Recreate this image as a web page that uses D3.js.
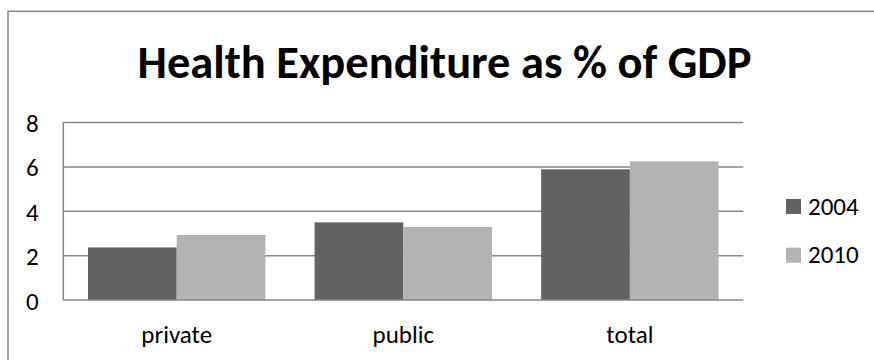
<!DOCTYPE html>
<html>
<head>
<meta charset="utf-8">
<script src="https://cdn.jsdelivr.net/npm/d3@7/dist/d3.min.js"></script>
<style>
  html, body { margin: 0; padding: 0; background: #fff; }
  svg { display: block; }
  text { font-family: Carlito, Calibri, Lato, "Open Sans", sans-serif; fill: #000; }
</style>
</head>
<body>
<svg id="chart" width="874" height="360"></svg>
<script>
// Health expenditure as a share of GDP, by funding source
const categories = ["private", "public", "total"];
const seriesNames = ["2004", "2010"];
const values2004 = [2.37, 3.5, 5.89];
const values2010 = [2.93, 3.29, 6.25];
const yTicks = [0, 2, 4, 6, 8];
const titleText = "Health Expenditure as % of GDP";

const seriesValues = [values2004, values2010];
const colors = ["#626262", "#b3b3b3"];
const labelSize = 25;

const svg = d3.select("#chart");

// outer chart frame (runs off the right and bottom edges)
svg.append("rect")
  .attr("x", 8).attr("y", 11.3)
  .attr("width", 1000).attr("height", 500)
  .attr("fill", "none").attr("stroke", "#8a8a8a").attr("stroke-width", 1.6);

// title
svg.append("text")
  .attr("x", 444.5).attr("y", 78)
  .attr("text-anchor", "middle")
  .attr("font-size", 46.5).attr("font-weight", "bold")
  .text(titleText);

const plot = { left: 63.3, right: 743.3, top: 122.5, bottom: 300 };

const x0 = d3.scaleBand().domain(categories)
  .range([plot.left, plot.right]).paddingInner(0.217).paddingOuter(0.109);
const x1 = d3.scaleBand().domain(seriesNames).range([0, x0.bandwidth()]);
const y = d3.scaleLinear().domain([0, 8]).range([plot.bottom, plot.top]);

// horizontal gridlines
svg.append("g").selectAll("line").data(yTicks.filter(t => t > 0)).join("line")
  .attr("x1", plot.left).attr("x2", plot.right)
  .attr("y1", d => y(d)).attr("y2", d => y(d))
  .attr("stroke", "#878787").attr("stroke-width", 1.5);

// y axis labels
const yAxis = d3.axisLeft(y).tickValues(yTicks).tickSize(0).tickPadding(0).tickFormat(d3.format("d"));
const yG = svg.append("g").attr("transform", `translate(${plot.left},0)`).call(yAxis);
yG.select(".domain").remove();
yG.selectAll("text")
  .attr("x", -31).attr("text-anchor", "middle")
  .attr("font-size", labelSize).attr("font-family", "Carlito, Calibri, Lato, sans-serif")
  .attr("dy", "0.36em");

// bars
const groups = svg.append("g").selectAll("g").data(categories).join("g")
  .attr("transform", d => `translate(${x0(d)},0)`);
groups.selectAll("rect")
  .data((d, i) => seriesNames.map((s, j) => ({ s, v: seriesValues[j][i], j })))
  .join("rect")
  .attr("x", d => x1(d.s)).attr("width", x1.bandwidth())
  .attr("y", d => y(d.v)).attr("height", d => y(0) - y(d.v))
  .attr("fill", d => colors[d.j]);

// vertical axis line and baseline
svg.append("line")
  .attr("x1", plot.left).attr("x2", plot.left)
  .attr("y1", plot.top).attr("y2", plot.bottom)
  .attr("stroke", "#878787").attr("stroke-width", 1.5);
svg.append("line")
  .attr("x1", plot.left).attr("x2", plot.right)
  .attr("y1", plot.bottom).attr("y2", plot.bottom)
  .attr("stroke", "#878787").attr("stroke-width", 1.5);

// category labels
const xAxis = d3.axisBottom(x0).tickSize(0).tickPadding(0);
const xG = svg.append("g").attr("transform", `translate(0,${plot.bottom})`).call(xAxis);
xG.select(".domain").remove();
xG.selectAll("text")
  .attr("y", 43).attr("dy", 0)
  .attr("font-size", labelSize).attr("font-family", "Carlito, Calibri, Lato, sans-serif");

// legend
const legend = svg.append("g").selectAll("g").data(seriesNames).join("g")
  .attr("transform", (d, i) => `translate(786,${199 + i * 48.7})`);
legend.append("rect")
  .attr("width", 15).attr("height", 15)
  .attr("fill", (d, i) => colors[i]);
legend.append("text")
  .attr("x", 22).attr("y", 15.5)
  .attr("font-size", labelSize)
  .text(d => d);
</script>
</body>
</html>
